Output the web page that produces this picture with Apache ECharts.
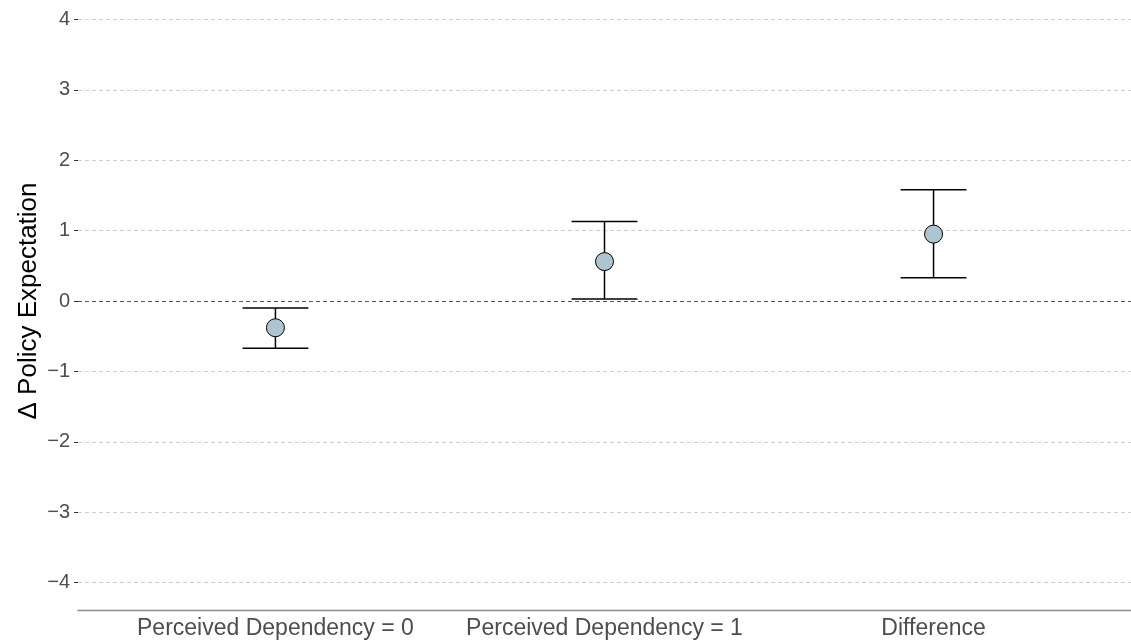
<!DOCTYPE html>
<html>
<head>
<meta charset="utf-8">
<script src="https://cdn.jsdelivr.net/npm/echarts@6/dist/echarts.min.js"></script>
<style>
html,body{margin:0;padding:0;background:#fff;}
#chart{width:1131px;height:642px;}
</style>
</head>
<body>
<div id="chart"></div>
<script>
// Data
const categories = ['Perceived Dependency = 0', 'Perceived Dependency = 1', 'Difference'];
const estimates = [-0.38, 0.56, 0.95];
const lowerCI = [-0.67, 0.03, 0.33];
const upperCI = [-0.10, 1.13, 1.58];
const yTicks = [-4, -3, -2, -1, 0, 1, 2, 3, 4];

const positions = categories.map((c, i) => i + 1);
const pointData = positions.map((p, i) => [p, estimates[i]]);
const barData = positions.map((p, i) => [p, lowerCI[i], upperCI[i]]);

const chart = echarts.init(document.getElementById('chart'), null, {renderer: 'canvas'});
const FONT = '"Liberation Sans", Arial, sans-serif';
const CAP_HALF = 0.1;

chart.setOption({
  animation: false,
  backgroundColor: '#ffffff',
  grid: {left: 78, right: 0, top: 19.4, bottom: 59.4, containLabel: false},
  xAxis: {
    type: 'value',
    min: 0.4,
    max: 3.6,
    offset: 28,
    axisLine: {show: true, onZero: false, lineStyle: {color: '#8a8a8a', width: 1.3}},
    axisTick: {show: false},
    splitLine: {show: false},
    axisLabel: {
      customValues: positions,
      formatter: v => categories[Math.round(v) - 1] || '',
      color: '#4d4d4d',
      fontSize: 23,
      fontFamily: FONT,
      margin: 7
    }
  },
  yAxis: {
    type: 'value',
    min: yTicks[0],
    max: yTicks[yTicks.length - 1],
    interval: 1,
    name: 'Δ Policy Expectation',
    nameLocation: 'middle',
    nameGap: 36,
    nameMoveOverlap: false,
    nameTextStyle: {color: '#000000', fontSize: 26, fontFamily: FONT},
    axisLine: {show: false},
    axisTick: {show: true, length: 4, lineStyle: {color: '#333333'}},
    axisLabel: {
      formatter: v => String(v).replace('-', '\u2212'),
      color: '#4d4d4d',
      fontSize: 20,
      fontFamily: FONT,
      margin: 8
    },
    splitLine: {show: true, lineStyle: {color: '#cfcfcf', type: [4, 3], width: 1}}
  },
  series: [
    {
      type: 'custom',
      data: barData,
      z: 3,
      renderItem: function (params, api) {
        const x = api.value(0);
        const lo = api.coord([x, api.value(1)]);
        const hi = api.coord([x, api.value(2)]);
        const loL = api.coord([x - CAP_HALF, api.value(1)]);
        const loR = api.coord([x + CAP_HALF, api.value(1)]);
        const hiL = api.coord([x - CAP_HALF, api.value(2)]);
        const hiR = api.coord([x + CAP_HALF, api.value(2)]);
        const style = {stroke: '#000000', lineWidth: 1.5, fill: null};
        return {
          type: 'group',
          children: [
            {type: 'line', shape: {x1: lo[0], y1: lo[1], x2: hi[0], y2: hi[1]}, style: style},
            {type: 'line', shape: {x1: loL[0], y1: loL[1], x2: loR[0], y2: loR[1]}, style: style},
            {type: 'line', shape: {x1: hiL[0], y1: hiL[1], x2: hiR[0], y2: hiR[1]}, style: style}
          ]
        };
      },
      markLine: {
        silent: true,
        symbol: 'none',
        label: {show: false},
        lineStyle: {color: '#555555', type: [4, 3], width: 1},
        data: [{yAxis: 0}]
      }
    },
    {
      type: 'scatter',
      data: pointData,
      z: 4,
      symbol: 'circle',
      symbolSize: 18,
      itemStyle: {color: '#aec4ce', borderColor: '#000000', borderWidth: 1, opacity: 1}
    }
  ]
});
</script>
</body>
</html>
